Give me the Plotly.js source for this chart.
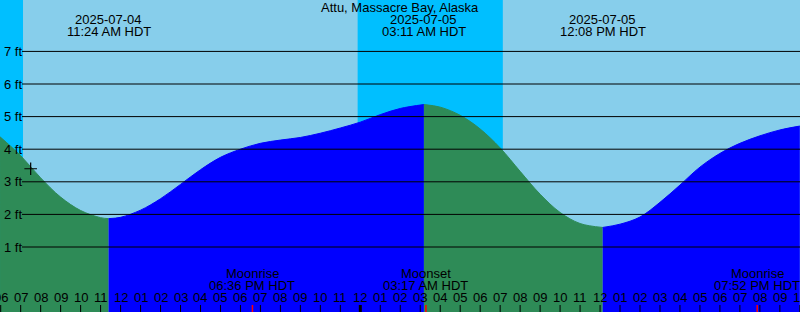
<!DOCTYPE html>
<html>
<head>
<meta charset="utf-8">
<script src="https://cdn.plot.ly/plotly-3.0.1.min.js"></script>
<style>html,body{margin:0;padding:0;background:#87CEEB;}#chart{width:800px;height:312px;}</style>
</head>
<body>
<div id="chart"></div>
<script>
// ---- data ----
const stationTitle = "Attu, Massacre Bay, Alaska";

const tideTimes = [
  "2025-07-04 05:58","2025-07-04 07:00","2025-07-04 08:00","2025-07-04 09:00","2025-07-04 10:00",
  "2025-07-04 11:00","2025-07-04 11:24","2025-07-04 12:00","2025-07-04 13:00","2025-07-04 14:00",
  "2025-07-04 15:00","2025-07-04 16:00","2025-07-04 17:00","2025-07-04 18:00","2025-07-04 19:00",
  "2025-07-04 20:00","2025-07-04 21:00","2025-07-04 22:00","2025-07-04 23:00","2025-07-05 00:00",
  "2025-07-05 01:00","2025-07-05 02:00","2025-07-05 03:11","2025-07-05 04:00","2025-07-05 05:00",
  "2025-07-05 06:00","2025-07-05 07:00","2025-07-05 08:00","2025-07-05 09:00","2025-07-05 10:00",
  "2025-07-05 11:00","2025-07-05 12:08","2025-07-05 13:00","2025-07-05 14:00","2025-07-05 15:00",
  "2025-07-05 16:00","2025-07-05 17:00","2025-07-05 18:00","2025-07-05 19:00","2025-07-05 20:00",
  "2025-07-05 21:00","2025-07-05 22:00"
];
const tideFeet = [
  4.38, 3.80, 3.12, 2.53, 2.12,
  1.90, 1.87, 1.91, 2.13, 2.48,
  2.92, 3.37, 3.75, 4.00, 4.18,
  4.28, 4.36, 4.49, 4.65, 4.83,
  5.06, 5.25, 5.37, 5.29, 5.04,
  4.62, 4.04, 3.32, 2.62, 2.06,
  1.72, 1.60, 1.70, 1.92, 2.37,
  2.90, 3.45, 3.87, 4.18, 4.41,
  4.59, 4.71
];

const extremeTimes = ["2025-07-04 11:24","2025-07-05 03:11","2025-07-05 12:08"];
const extremeDates = ["2025-07-04","2025-07-05","2025-07-05"];
const extremeClock = ["11:24 AM HDT","03:11 AM HDT","12:08 PM HDT"];

const moonTimes = ["2025-07-04 18:36","2025-07-05 03:17","2025-07-05 19:52"];
const moonEvents = ["Moonrise","Moonset","Moonrise"];
const moonClock = ["06:36 PM HDT","03:17 AM HDT","07:52 PM HDT"];

const nightStarts = ["2025-07-04 05:00","2025-07-04 23:52"];
const nightEnds   = ["2025-07-04 07:07","2025-07-05 07:08"];

const nowTime = "2025-07-04 07:30";
const nowFeet = 3.40;

const levelTicks = [1,2,3,4,5,6,7];
const levelTickLabels = ["1 ft","2 ft","3 ft","4 ft","5 ft","6 ft","7 ft"];

const hourTickStart = "2025-07-04 06:00";
const hourTickLabels = ["06","07","08","09","10","11","12","01","02","03","04","05","06","07","08","09","10","11",
  "12","01","02","03","04","05","06","07","08","09","10","11","12","01","02","03","04","05","06","07","08","09","10"];

// ---- styles ----
const DAY = "#87CEEB", NIGHT = "#00BFFF", RISE = "#0000FF", FALL = "#2E8B57";
const FONT = {family: "Liberation Sans, Arial, sans-serif", size: 13, color: "#000"};
const W = 800, H = 312;
const py = px => 1 - px / H;   // pixel row -> paper y

function parseT(s){ const [d,t]=s.split(" "); const [Y,M,D]=d.split("-").map(Number); const [h,m]=t.split(":").map(Number); return Date.UTC(Y,M-1,D,h,m); }
function fmtT(ms){ const d=new Date(ms); const p=n=>String(n).padStart(2,"0");
  return d.getUTCFullYear()+"-"+p(d.getUTCMonth()+1)+"-"+p(d.getUTCDate())+" "+p(d.getUTCHours())+":"+p(d.getUTCMinutes())+":"+p(d.getUTCSeconds()); }

// ---- traces: split the curve at the extremes ----
const breaks = [0];
extremeTimes.forEach(t => { const i = tideTimes.indexOf(t); if (i > 0) breaks.push(i); });
breaks.push(tideTimes.length - 1);
const traces = [];
for (let k = 0; k < breaks.length - 1; k++) {
  const a = breaks[k], b = breaks[k+1];
  const xs = tideTimes.slice(a, b + 1), ys = tideFeet.slice(a, b + 1);
  const col = ys[ys.length-1] > ys[0] ? RISE : FALL;
  traces.push({x: xs, y: xs.map(() => -3), mode: "lines", line: {width: 0, color: col}, hoverinfo: "skip", showlegend: false});
  traces.push({x: xs, y: ys, mode: "lines", line: {width: 1, color: col, shape: "spline", smoothing: 1},
    fill: "tonexty", fillcolor: col, hoverinfo: "skip", showlegend: false});
}
traces.push({x: [nowTime], y: [nowFeet], mode: "markers",
  marker: {symbol: "cross-thin", size: 9, line: {width: 1.2, color: "#000"}}, hoverinfo: "skip", showlegend: false});

// ---- shapes ----
const shapes = [];
nightStarts.forEach((s, i) => shapes.push({type: "rect", xref: "x", yref: "paper", x0: s, x1: nightEnds[i], y0: 0, y1: 1,
  fillcolor: NIGHT, line: {width: 0}, layer: "below"}));
levelTicks.forEach(v => shapes.push({type: "line", xref: "paper", yref: "y", x0: 22/W, x1: 1, y0: v, y1: v,
  line: {color: "#000", width: 1}, layer: "above"}));
const t0 = parseT(hourTickStart);
const annotations = [];
hourTickLabels.forEach((lab, i) => {
  const ms = t0 + i * 3600e3, t = fmtT(ms);
  const midnight = new Date(ms).getUTCHours() === 0;
  shapes.push({type: "line", xref: "x", yref: "paper", x0: t, x1: t, y0: 0, y1: 7/H,
    line: {color: "#000", width: midnight ? 3 : 1}, layer: "above"});
  annotations.push({x: t, xref: "x", y: py(297.5), yref: "paper", text: lab, showarrow: false,
    xanchor: "center", yanchor: "middle", font: FONT});
});
moonTimes.forEach((t, i) => {
  shapes.push({type: "line", xref: "x", yref: "paper", x0: t, x1: t, y0: 0, y1: 7/H,
    line: {color: "#FF0000", width: 1.5}, layer: "above"});
  annotations.push({x: t, xref: "x", y: py(273), yref: "paper", text: moonEvents[i], showarrow: false, xanchor: "center", yanchor: "middle", font: FONT});
  annotations.push({x: t, xref: "x", y: py(285.5), yref: "paper", text: moonClock[i], showarrow: false, xanchor: "center", yanchor: "middle", font: FONT});
});
extremeTimes.forEach((t, i) => {
  annotations.push({x: t, xref: "x", y: py(19.5), yref: "paper", text: extremeDates[i], showarrow: false, xanchor: "center", yanchor: "middle", font: FONT});
  annotations.push({x: t, xref: "x", y: py(31.5), yref: "paper", text: extremeClock[i], showarrow: false, xanchor: "center", yanchor: "middle", font: FONT});
});
levelTicks.forEach((v, i) => annotations.push({x: 2/W, xref: "paper", y: v, yref: "y", text: levelTickLabels[i],
  showarrow: false, xanchor: "left", yanchor: "middle", font: FONT, xshift: 0}));
annotations.push({x: 0.5, xref: "paper", y: py(7.5), yref: "paper", text: stationTitle, showarrow: false,
  xanchor: "center", yanchor: "middle", font: FONT});

const layout = {
  width: W, height: H, margin: {l: 0, r: 0, t: 0, b: 0, pad: 0},
  paper_bgcolor: DAY, plot_bgcolor: "rgba(0,0,0,0)", showlegend: false,
  xaxis: {type: "date", range: ["2025-07-04 05:57:54", "2025-07-05 22:00:30"], visible: false, fixedrange: true},
  yaxis: {range: [-0.994, 8.577], visible: false, fixedrange: true},
  shapes: shapes, annotations: annotations, font: FONT
};
Plotly.newPlot("chart", traces, layout, {staticPlot: true, displayModeBar: false});
</script>
</body>
</html>
